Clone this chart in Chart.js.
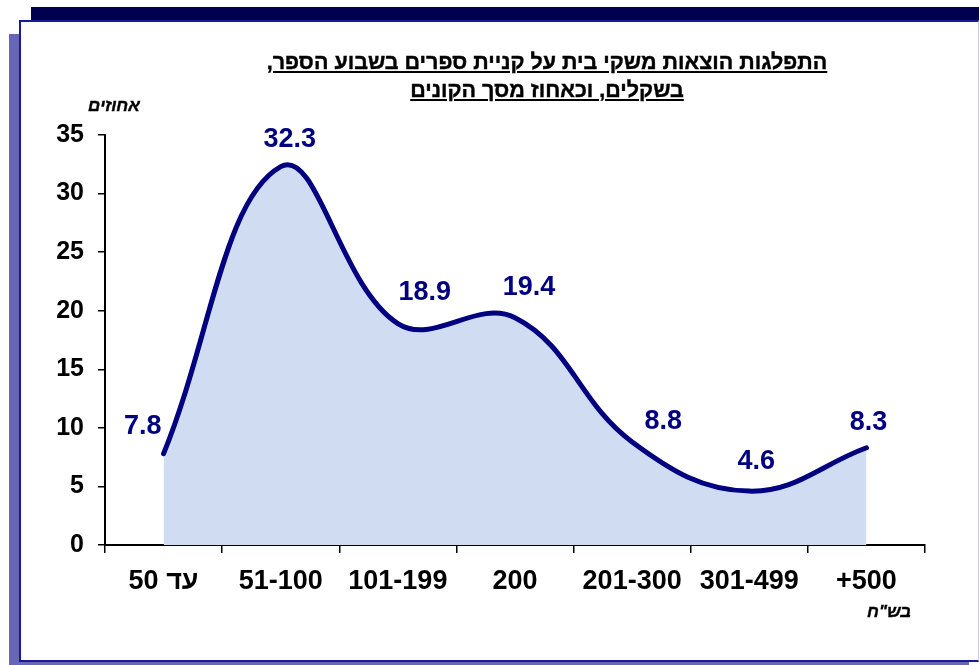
<!DOCTYPE html>
<html>
<head>
<meta charset="utf-8">
<script src="https://cdn.jsdelivr.net/npm/chart.js@4.4.1/dist/chart.umd.min.js"></script>
<style>
  body { margin:0; width:979px; height:665px; background:#fff; position:relative; overflow:hidden; font-family:"Liberation Sans", Arial, sans-serif; }
  #topbar { position:absolute; left:31px; top:7px; width:948px; height:13px; background:#000050; }
  #shadowL { position:absolute; left:9px; top:34px; width:10px; height:631px; background:#6666b3; }
  #shadowB { position:absolute; left:9px; top:660px; width:960px; height:5px; background:#6666b3; }
  #frame { position:absolute; left:19px; top:20px; width:957px; height:638px; border:2px solid #1a1a99; border-right:1px solid #c8c8ea; background:#fff; }
  #wrap { position:absolute; left:0; top:0; width:979px; height:665px; }
  #title { position:absolute; left:197px; width:700px; top:48px; text-align:center; direction:rtl; font-weight:bold; font-size:21.5px; line-height:28px; text-decoration:underline; color:#000; -webkit-text-stroke:0.4px #000; }
  .unit { position:absolute; direction:rtl; font-weight:bold; font-style:italic; font-size:17px; color:#000; -webkit-text-stroke:0.4px #000; }
</style>
</head>
<body>
<div id="topbar"></div>
<div id="shadowL"></div>
<div id="shadowB"></div>
<div id="frame"></div>
<div id="wrap"><canvas id="myChart" width="979" height="665"></canvas></div>
<div id="title">התפלגות הוצאות משקי בית על קניית ספרים בשבוע הספר,<br>בשקלים, וכאחוז מסך הקונים</div>
<div class="unit" style="left:88px; top:96px;">אחוזים</div>
<div class="unit" style="left:867px; top:602px;">בש"ח</div>
<script>
var categories = ['עד 50', '51-100', '101-199', '200', '201-300', '301-499', '+500'];
var shares = [7.8, 32.3, 18.9, 19.4, 8.8, 4.6, 8.3];
var yTicks = [0, 5, 10, 15, 20, 25, 30, 35];

var navy = '#000080';
var fontFam = '"Liberation Sans", Arial, sans-serif';

// value labels, nudged like in the original sheet
var labelDx = [0, 9, 27, 14, 31, 7, 2];
var labelDy = [-27, -27, -31, -30, -20, -30, -25];
var valueLabels = {
    id: 'valueLabels',
    afterDatasetsDraw: function (chart) {
        var ctx = chart.ctx;
        var meta = chart.getDatasetMeta(0);
        var ys = chart.scales.y;
        ctx.save();
        ctx.font = 'bold 27px ' + fontFam;
        ctx.fillStyle = navy;
        ctx.textBaseline = 'middle';
        meta.data.forEach(function (pt, i) {
            var txt = shares[i].toFixed(1);
            var y = ys.getPixelForValue(shares[i]) + labelDy[i];
            if (i == 0) {
                ctx.textAlign = 'right';
                ctx.fillText(txt, pt.x - 2, y);
            } else {
                ctx.textAlign = 'center';
                ctx.fillText(txt, pt.x + labelDx[i], y);
            }
        });
        ctx.restore();
    }
};

var ctx = document.getElementById('myChart').getContext('2d');
var myChart = new Chart(ctx, {
    type: 'line',
    data: {
        labels: categories,
        datasets: [{
            data: shares,
            borderColor: navy,
            borderWidth: 5,
            borderCapStyle: 'round',
            backgroundColor: '#d0dcf2',
            fill: 'origin',
            tension: 0.4,
            pointRadius: 0
        }]
    },
    options: {
        responsive: false,
        animation: false,
        layout: { padding: { top: 135, right: 54, left: 0, bottom: 0 } },
        plugins: { legend: { display: false }, tooltip: { enabled: false } },
        scales: {
            x: {
                offset: true,
                afterFit: function (s) { s.height = 120; },
                border: { color: '#000', width: 2 },
                grid: { offset: true, drawOnChartArea: false, color: '#000', tickLength: 8, lineWidth: 1.5 },
                ticks: { color: '#000', padding: 12, maxRotation: 0, font: { family: fontFam, size: 27, weight: 'bold' } }
            },
            y: {
                min: 0,
                max: 35,
                afterFit: function (s) { s.width = 105; },
                afterBuildTicks: function (s) { s.ticks = yTicks.map(function (v) { return { value: v }; }); },
                border: { color: '#000', width: 2 },
                grid: { drawOnChartArea: false, color: '#000', tickLength: 7, lineWidth: 1.5 },
                ticks: { color: '#000', padding: 14, font: { family: fontFam, size: 25, weight: 'bold' } }
            }
        }
    },
    plugins: [valueLabels]
});
</script>
</body>
</html>
